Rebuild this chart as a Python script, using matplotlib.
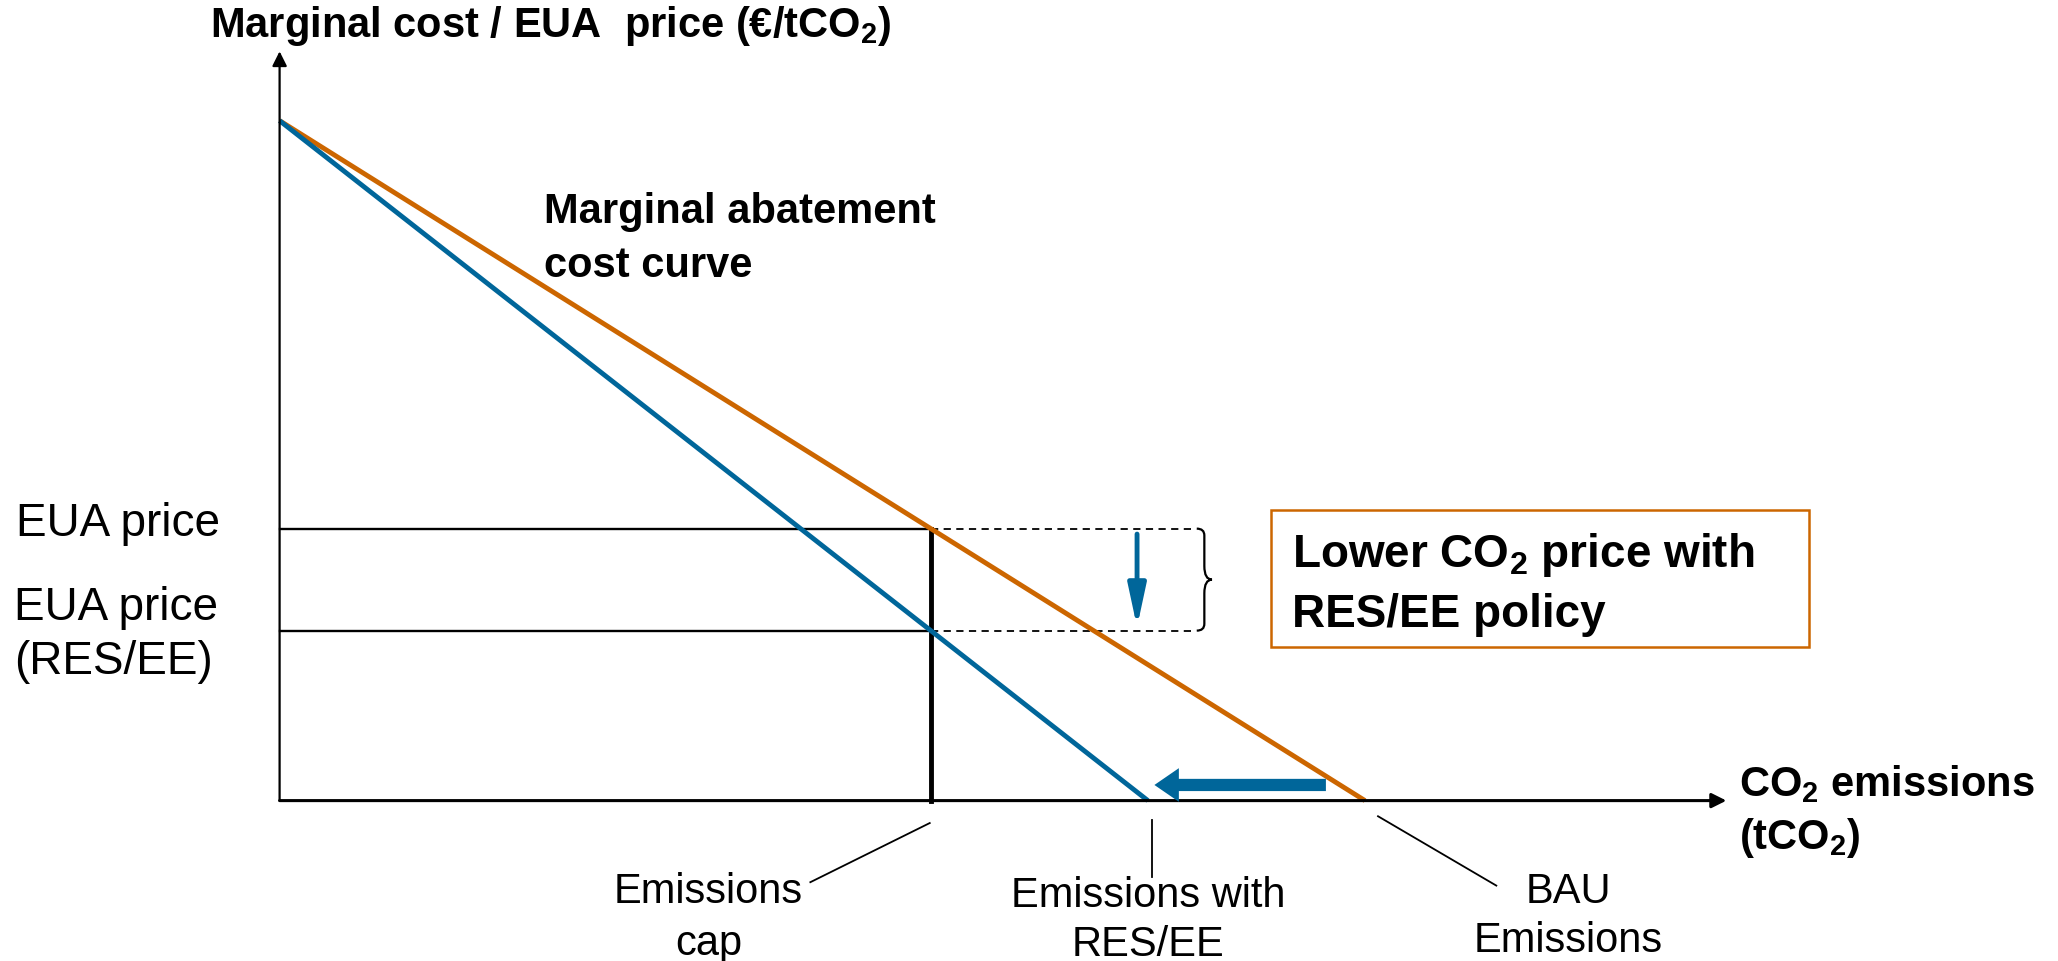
import matplotlib
matplotlib.use("Agg")
import matplotlib.pyplot as plt
from matplotlib.patches import Rectangle, PathPatch
from matplotlib.path import Path

plt.rcParams['font.family'] = ['Liberation Sans', 'DejaVu Sans']
plt.rcParams['mathtext.fontset'] = 'custom'
plt.rcParams['mathtext.rm'] = 'Liberation Sans'
plt.rcParams['mathtext.bf'] = 'Liberation Sans:bold'

# ---- data (schematic units) ----
mac_x = [0, 100]          # marginal abatement cost curve (BAU)
mac_y = [100, 0]
mac_res_x = [0, 80]       # curve with RES/EE policy
mac_res_y = [100, 0]
emissions_cap = 60
eua_price = 40
eua_price_res = 25
bau_emissions = 100
res_emissions = 80

ORANGE = '#CC6600'
BLUE = '#00669A'

fig = plt.figure(figsize=(20.58, 9.61), dpi=100)
ax = fig.add_axes([0, 0, 1, 1])
ax.set_xlim(-25.76, 163.85)
ax.set_ylim(-23.59, 117.75)
ax.axis('off')

# axes with arrows
ax.annotate('', xy=(133.3, 0), xytext=(0, 0),
            arrowprops=dict(arrowstyle='-|>', lw=2.2, color='black', mutation_scale=22, shrinkA=0, shrinkB=0))
ax.annotate('', xy=(0, 110.2), xytext=(0, 0),
            arrowprops=dict(arrowstyle='-|>', lw=1.6, color='black', mutation_scale=22, shrinkA=0, shrinkB=0))

# price lines
ax.plot([0, emissions_cap], [eua_price, eua_price], color='black', lw=1.7)
ax.plot([0, emissions_cap], [eua_price_res, eua_price_res], color='black', lw=1.7)
ax.plot([emissions_cap, 84.3], [eua_price, eua_price], color='black', lw=1.3, ls=(0, (4, 3)))
ax.plot([emissions_cap, 84.3], [eua_price_res, eua_price_res], color='black', lw=1.3, ls=(0, (4, 3)))
ax.plot([emissions_cap, emissions_cap], [0, eua_price], color='black', lw=3.5)

# curves
ax.plot(mac_x, mac_y, color=ORANGE, lw=3.5, solid_capstyle='butt')
ax.plot(mac_res_x, mac_res_y, color=BLUE, lw=3.5, solid_capstyle='butt')

# brace
bx = 84.5
y0, y1 = eua_price_res, eua_price
ym = (y0 + y1) / 2
verts = [(bx, y1), (bx + 0.7, y1), (bx + 0.7, y1 - 1.0), (bx + 0.7, ym + 2),
         (bx + 0.7, ym + 2), (bx + 0.7, ym), (bx + 1.4, ym),
         (bx + 0.7, ym), (bx + 0.7, ym - 2), (bx + 0.7, ym - 2),
         (bx + 0.7, y0 + 1.0), (bx + 0.7, y0), (bx, y0)]
codes = [Path.MOVETO, Path.CURVE3, Path.CURVE3, Path.LINETO,
         Path.LINETO, Path.CURVE3, Path.CURVE3,
         Path.CURVE3, Path.CURVE3, Path.LINETO,
         Path.LINETO, Path.CURVE3, Path.CURVE3]
ax.add_patch(PathPatch(Path(verts, codes), fill=False, lw=1.6, color='black'))

# blue arrows
ax.annotate('', xy=(79.0, eua_price_res + 0.5), xytext=(79.0, eua_price - 0.8),
            arrowprops=dict(arrowstyle='-|>,head_width=0.3,head_length=1.4', lw=3.5, color=BLUE,
                            mutation_scale=18, shrinkA=0, shrinkB=0))
ax.annotate('', xy=(res_emissions + 0.6, 2.3), xytext=(96.4, 2.3),
            arrowprops=dict(arrowstyle='simple,head_width=1.1,head_length=0.8,tail_width=0.4',
                            color=BLUE, mutation_scale=22, shrinkA=0, shrinkB=0, lw=0))

# orange box
ax.add_patch(Rectangle((91.3, 22.6), 49.6, 20.1, fill=False, edgecolor=ORANGE, lw=1.8))
ax.text(93.3, 31.9, 'Lower CO$_\\mathbf{2}$ price with\nRES/EE policy', fontsize=33,
        fontweight='bold', ha='left', va='center', linespacing=1.4)

# titles / labels
ax.text(-6.4, 113.9, 'Marginal cost / EUA  price (€/tCO$_\\mathbf{2}$)', fontsize=30,
        fontweight='bold', ha='left', va='center')
ax.text(24.4, 82.6, 'Marginal abatement\ncost curve', fontsize=30, fontweight='bold',
        ha='left', va='center', linespacing=1.42)
ax.text(134.5, -1.6, 'CO$_\\mathbf{2}$ emissions\n(tCO$_\\mathbf{2}$)', fontsize=30, fontweight='bold',
        ha='left', va='center', linespacing=1.35)

ax.text(-24.3, 40.7, 'EUA price', fontsize=33, ha='left', va='center')
ax.text(-24.5, 24.4, 'EUA price\n(RES/EE)', fontsize=33, ha='left', va='center', linespacing=1.3)

# leader lines and bottom labels
ax.plot([59.9, 48.9], [-3.3, -12.0], color='black', lw=1.3)
ax.plot([80.4, 80.4], [-2.9, -11.2], color='black', lw=1.3)
ax.plot([101.2, 112.1], [-2.3, -12.5], color='black', lw=1.3)

ax.text(39.5, -17.3, 'Emissions\ncap', fontsize=30, ha='center', va='center', linespacing=1.4)
ax.text(80.0, -17.6, 'Emissions with\nRES/EE', fontsize=30, ha='center', va='center', linespacing=1.28)
ax.text(118.7, -17.0, 'BAU\nEmissions', fontsize=30, ha='center', va='center', linespacing=1.3)

fig.savefig('out.png', dpi=100)
